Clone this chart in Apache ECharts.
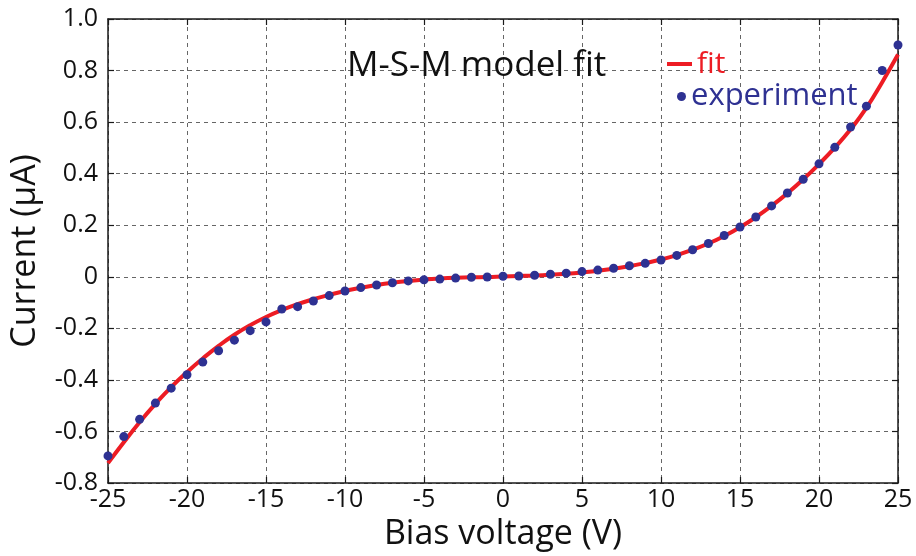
<!DOCTYPE html>
<html>
<head>
<meta charset="utf-8">
<script src="https://cdn.jsdelivr.net/npm/echarts@6/dist/echarts.min.js"></script>
<style>
  html, body { margin: 0; padding: 0; background: #fff; }
  #main { width: 916px; height: 556px; }
</style>
</head>
<body>
<div id="main"></div>
<script>
// bias voltage (V)
var voltage = [-25, -24, -23, -22, -21, -20, -19, -18, -17, -16, -15, -14, -13, -12, -11, -10,
  -9, -8, -7, -6, -5, -4, -3, -2, -1, 0, 1, 2, 3, 4, 5, 6, 7, 8, 9,
  10, 11, 12, 13, 14, 15, 16, 17, 18, 19, 20, 21, 22, 23, 24, 25]

// measured current (uA)
var experiment = [-0.695, -0.620, -0.553, -0.490, -0.432, -0.380, -0.331, -0.287, -0.246, -0.209,
  -0.175, -0.125, -0.116, -0.094, -0.073, -0.055, -0.042, -0.032, -0.023, -0.016,
  -0.012, -0.009, -0.005, -0.002, -0.001, 0.002, 0.003, 0.006, 0.010, 0.014,
  0.020, 0.026, 0.033, 0.043, 0.052, 0.065, 0.083, 0.105, 0.129, 0.160,
  0.193, 0.232, 0.275, 0.325, 0.378, 0.438, 0.502, 0.581, 0.662, 0.800, 0.899]

// M-S-M model fit (uA)
var fit = [-0.723, -0.642, -0.564, -0.493, -0.428, -0.370, -0.317, -0.268, -0.225, -0.188,
  -0.156, -0.129, -0.106, -0.087, -0.070, -0.055, -0.043, -0.032, -0.023, -0.016,
  -0.011, -0.007, -0.004, -0.002, -0.001, 0.001, 0.003, 0.005, 0.008, 0.012,
  0.017, 0.023, 0.031, 0.041, 0.053, 0.067, 0.084, 0.105, 0.129, 0.158,
  0.192, 0.231, 0.275, 0.324, 0.378, 0.437, 0.501, 0.572, 0.655, 0.755, 0.862]

var font = '"Open Sans", "Noto Sans", sans-serif'
var red = '#ed1c24'
var blue = '#2e3192'

function pairs(ys) {
  return voltage.map(function (v, i) { return [v, ys[i]] })
}

// top / right frame axes: line + inner ticks only
var boxAxis = {
  axisLine: { show: true, onZero: false, lineStyle: { color: '#1a1a1a', width: 1.5 } },
  axisTick: { show: true, inside: true, length: 6, lineStyle: { color: '#1a1a1a', width: 1.2 } },
  axisLabel: { show: false },
  splitLine: { show: false }
}

var myChart = echarts.init(document.getElementById('main'))

myChart.setOption({
  backgroundColor: '#fff',
  animation: false,
  textStyle: { fontFamily: font },
  title: {
    text: 'M-S-M model fit',
    left: 342,
    top: 44,
    textStyle: { fontFamily: font, fontSize: 35, fontWeight: 'normal', color: '#111' }
  },
  legend: [
    {
      data: ['fit'],
      left: 662,
      top: 44,
      icon: 'rect',
      itemWidth: 25,
      itemHeight: 4,
      itemGap: 0,
      textStyle: { fontFamily: font, fontSize: 30, color: red }
    },
    {
      data: ['experiment'],
      left: 672,
      top: 76,
      icon: 'circle',
      itemWidth: 9,
      itemHeight: 9,
      textStyle: { fontFamily: font, fontSize: 31, color: blue }
    }
  ],
  grid: { left: 108, top: 19, right: 18, bottom: 73 },
  xAxis: [
    {
      type: 'value',
      min: -25,
      max: 25,
      interval: 5,
      name: 'Bias voltage (V)',
      nameLocation: 'middle',
      nameGap: 30,
      nameTextStyle: { fontFamily: font, fontSize: 34, color: '#111' },
      axisLine: { onZero: false, lineStyle: { color: '#1a1a1a', width: 1.5 } },
      axisTick: { inside: true, length: 6, lineStyle: { color: '#1a1a1a', width: 1.2 } },
      axisLabel: { margin: 4, fontFamily: font, fontSize: 25, color: '#111' },
      splitLine: { show: true, lineStyle: { color: '#666', type: [4, 4], width: 1 } }
    },
    Object.assign({ type: 'value', position: 'top', min: -25, max: 25, interval: 5 }, boxAxis)
  ],
  yAxis: [
    {
      type: 'value',
      min: -0.8,
      max: 1.0,
      interval: 0.2,
      name: 'Current (μA)',
      nameLocation: 'middle',
      nameGap: 66,
      nameTextStyle: { fontFamily: font, fontSize: 34, color: '#111' },
      axisLine: { onZero: false, lineStyle: { color: '#1a1a1a', width: 1.5 } },
      axisTick: { inside: true, length: 6, lineStyle: { color: '#1a1a1a', width: 1.2 } },
      axisLabel: {
        margin: 10,
        fontFamily: font,
        fontSize: 25,
        color: '#111',
        formatter: function (v) {
          return Math.abs(v) < 1e-9 ? '0' : v.toFixed(1)
        }
      },
      splitLine: { show: true, lineStyle: { color: '#666', type: [4, 4], width: 1 } }
    },
    Object.assign({ type: 'value', position: 'right', min: -0.8, max: 1.0, interval: 0.2 }, boxAxis)
  ],
  series: [
    {
      name: 'fit',
      type: 'line',
      smooth: true,
      showSymbol: false,
      data: pairs(fit),
      itemStyle: { color: red },
      lineStyle: { color: red, width: 4 },
      z: 2
    },
    {
      name: 'experiment',
      type: 'scatter',
      symbolSize: 9,
      data: pairs(experiment),
      itemStyle: { color: blue, opacity: 1 },
      z: 3
    }
  ]
})
</script>
</body>
</html>
